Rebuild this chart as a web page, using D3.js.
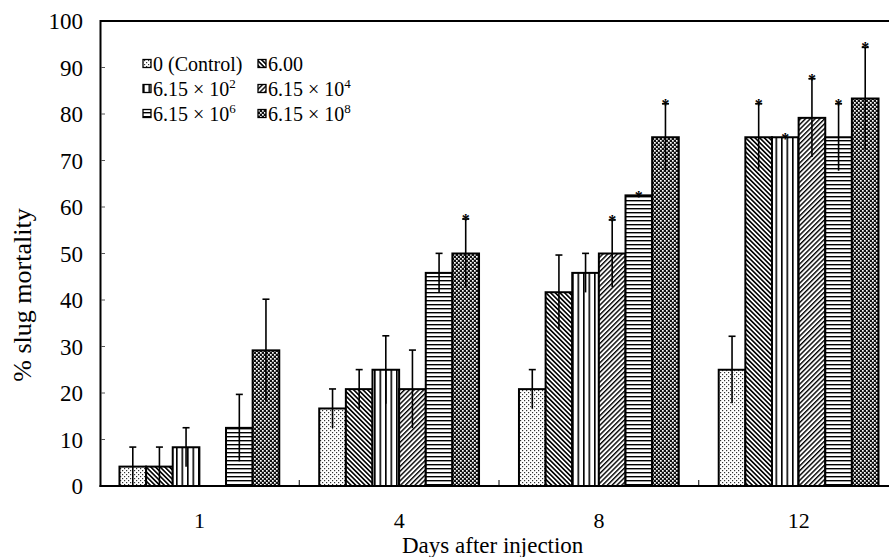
<!DOCTYPE html>
<html><head><meta charset="utf-8">
<script src="https://cdn.jsdelivr.net/npm/d3@7"></script>
<style>body{margin:0;background:#fff}svg{display:block}text{font-family:"Liberation Serif","Times New Roman",serif;fill:#000}</style>
</head><body>
<script>
const days = ["1","4","8","12"];
const seriesKeys = ["c","s600","e2","e4","e6","e8"];
const seriesBase = ["0 (Control)","6.00","6.15 \u00d7 10","6.15 \u00d7 10","6.15 \u00d7 10","6.15 \u00d7 10"];
const seriesExp = ["","","2","4","6","8"];
const vControl = [4.17, 16.67, 20.83, 25];
const v600 = [4.17, 20.83, 41.67, 75];
const vE2 = [8.33, 25, 45.83, 75];
const vE4 = [0, 20.83, 50, 79.17];
const vE6 = [12.5, 45.83, 62.5, 75];
const vE8 = [29.17, 50, 75, 83.33];
const eControl = [4.2, 4.2, 4.2, 7.2];
const e600 = [4.2, 4.2, 8.0, 7.2];
const eE2 = [4.2, 7.3, 4.2, 0];
const eE4 = [0, 8.4, 7.2, 8.4];
const eE6 = [7.2, 4.2, 0, 7.2];
const eE8 = [11, 7.4, 7.2, 11];
const sControl = [0,0,0,0];
const s600 = [0,0,0,1];
const sE2 = [0,0,0,1];
const sE4 = [0,0,1,1];
const sE6 = [0,0,1,1];
const sE8 = [0,1,1,1];
const yTicks = [0,10,20,30,40,50,60,70,80,90,100];

const vals = [vControl,v600,vE2,vE4,vE6,vE8];
const errs = [eControl,e600,eE2,eE4,eE6,eE8];
const stars = [sControl,s600,sE2,sE4,sE6,sE8];

const W=889,H=557;
const svg=d3.select("body").append("svg").attr("width",W).attr("height",H);
const defs=svg.append("defs");
function pat(id,w,h,fn,tr){const p=defs.append("pattern").attr("id",id).attr("patternUnits","userSpaceOnUse").attr("width",w).attr("height",h);if(tr)p.attr("patternTransform",tr);fn(p);}
pat("p-c",4,4,p=>{p.append("rect").attr("width",4).attr("height",4).attr("fill","#fff");
  p.append("rect").attr("x",0).attr("y",0).attr("width",1.2).attr("height",1.2).attr("fill","#333");
  p.append("rect").attr("x",2).attr("y",2).attr("width",1.2).attr("height",1.2).attr("fill","#333");});
pat("p-s600",3.3,10,p=>{p.append("rect").attr("width",3.3).attr("height",10).attr("fill","#fff");
  p.append("rect").attr("x",0).attr("y",0).attr("width",1.6).attr("height",10).attr("fill","#000");},"rotate(-45)");
pat("p-e2",5.5,10,p=>{p.append("rect").attr("width",5.5).attr("height",10).attr("fill","#fff");
  p.append("rect").attr("x",0).attr("y",0).attr("width",1.6).attr("height",10).attr("fill","#000");});
pat("p-e4",3.4,10,p=>{p.append("rect").attr("width",3.4).attr("height",10).attr("fill","#fff");
  p.append("rect").attr("x",0).attr("y",0).attr("width",1.4).attr("height",10).attr("fill","#000");},"rotate(45)");
pat("p-e6",10,4,p=>{p.append("rect").attr("width",10).attr("height",4).attr("fill","#fff");
  p.append("rect").attr("x",0).attr("y",0).attr("width",10).attr("height",1.4).attr("fill","#000");});
pat("p-e8",4,4,p=>{p.append("rect").attr("width",4).attr("height",4).attr("fill","#111");
  p.append("rect").attr("x",0).attr("y",0).attr("width",1.7).attr("height",1.7).attr("fill","#fff");
  p.append("rect").attr("x",2).attr("y",2).attr("width",1.7).attr("height",1.7).attr("fill","#fff");});
const fills={c:"url(#p-c)",s600:"url(#p-s600)",e2:"url(#p-e2)",e4:"url(#p-e4)",e6:"url(#p-e6)",e8:"url(#p-e8)"};

const x0=d3.scaleBand().domain(days).range([99.5,898.5]).paddingInner(0.2).paddingOuter(0.1);
const x1=d3.scaleBand().domain(seriesKeys).range([0,x0.bandwidth()]);
const y=d3.scaleLinear().domain([0,100]).range([486,21]);

// bars
const data=[];
days.forEach((d,i)=>seriesKeys.forEach((k,j)=>data.push({d,k,v:vals[j][i],e:errs[j][i],s:stars[j][i]})));
const g=svg.append("g");
g.selectAll("rect.bar").data(data.filter(o=>o.v>0)).join("rect").attr("class","bar")
 .attr("x",o=>x0(o.d)+x1(o.k)).attr("width",x1.bandwidth())
 .attr("y",o=>y(o.v)).attr("height",o=>y(0)-y(o.v))
 .attr("fill",o=>fills[o.k]).attr("stroke","#000").attr("stroke-width",2);
// error bars
const eb=data.filter(o=>o.e>0);
const cx=o=>x0(o.d)+x1(o.k)+x1.bandwidth()/2;
g.selectAll("line.err").data(eb).join("line").attr("x1",cx).attr("x2",cx)
 .attr("y1",o=>y(o.v-o.e)).attr("y2",o=>y(o.v+o.e)).attr("stroke","#000").attr("stroke-width",1.6);
g.selectAll("line.cap").data(eb).join("line").attr("x1",o=>cx(o)-3.5).attr("x2",o=>cx(o)+3.5)
 .attr("y1",o=>y(o.v+o.e)).attr("y2",o=>y(o.v+o.e)).attr("stroke","#000").attr("stroke-width",1.6);
g.selectAll("text.star").data(data.filter(o=>o.s)).join("text").attr("class","star")
 .attr("x",cx).attr("y",o=>y(o.v+o.e)+ (o.e>0?6:7)).attr("text-anchor","middle")
 .style("font-size","16px").style("font-weight","bold").text("*");

// frame / axes
svg.append("line").attr("x1",100.5).attr("x2",889).attr("y1",21).attr("y2",21).attr("stroke","#000").attr("stroke-width",2);
svg.append("line").attr("x1",100.5).attr("x2",100.5).attr("y1",20).attr("y2",487).attr("stroke","#000").attr("stroke-width",2);
svg.append("line").attr("x1",99.5).attr("x2",889).attr("y1",486).attr("y2",486).attr("stroke","#000").attr("stroke-width",2);
const yAx=svg.append("g");
yAx.selectAll("line").data(yTicks.slice(1,-1)).join("line").attr("x1",101).attr("x2",105)
 .attr("y1",d=>y(d)).attr("y2",d=>y(d)).attr("stroke","#555").attr("stroke-width",1);
yAx.selectAll("text").data(yTicks).join("text").attr("x",83).attr("y",d=>y(d)).attr("dy","0.35em")
 .attr("text-anchor","end").style("font-size","23px").text(d=>d);
// x ticks at group boundaries
const bounds=days.slice(1).map(d=>x0(d)-x0.step()*x0.paddingInner()/2);
svg.selectAll("line.xt").data(bounds).join("line").attr("x1",d=>d).attr("x2",d=>d).attr("y1",480).attr("y2",486).attr("stroke","#000").attr("stroke-width",1);
svg.selectAll("text.xl").data(days).join("text").attr("x",d=>x0(d)+x0.bandwidth()/2).attr("y",528)
 .attr("text-anchor","middle").style("font-size","22px").text(d=>d);
svg.append("text").attr("x",402).attr("y",553).style("font-size","23px").text("Days after injection");
svg.append("text").attr("transform","translate(31,295) rotate(-90)").attr("text-anchor","middle").style("font-size","26px").text("% slug mortality");

// legend
const leg=svg.append("g");
const legPos=[[143,64],[258,64],[143,89],[258,89],[143,114],[258,114]];
seriesKeys.forEach((k,j)=>{
  const [lx,ly]=legPos[j];
  leg.append("rect").attr("x",lx).attr("y",ly-4.5).attr("width",8).attr("height",8).attr("fill",fills[k]).attr("stroke","#000").attr("stroke-width",1.3);
  const t=leg.append("text").attr("x",lx+10).attr("y",ly+6.5).style("font-size","20px");
  t.append("tspan").text(seriesBase[j]);
  if(seriesExp[j]) t.append("tspan").attr("dy",-8).style("font-size","13px").text(seriesExp[j]);
});
</script>
</body></html>
